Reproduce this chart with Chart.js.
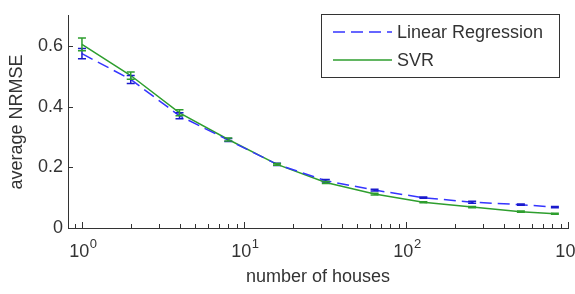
<!DOCTYPE html>
<html>
<head>
<meta charset="utf-8">
<script src="https://cdn.jsdelivr.net/npm/chart.js@4"></script>
<style>
  html, body { margin: 0; padding: 0; background: #fff; overflow: hidden; }
  #js-chart { display: block; }
</style>
</head>
<body>
<canvas id="js-chart" width="575" height="294"></canvas>
<script>
'use strict';
// number of houses (x) and the two series with their error bars
const houses = [1, 2, 4, 8, 16, 32, 64, 128, 256, 512, 830];
const lrValues = [0.575, 0.49, 0.37, 0.29, 0.21, 0.156, 0.125, 0.1, 0.085, 0.077, 0.069];
const lrErr = [0.017, 0.013, 0.01, 0.005, 0.004, 0.004, 0.003, 0.002, 0.003, 0.002, 0.002];
const svrValues = [0.606, 0.503, 0.38, 0.292, 0.21, 0.15, 0.112, 0.085, 0.069, 0.054, 0.047];
const svrErr = [0.021, 0.012, 0.01, 0.005, 0.003, 0.003, 0.003, 0.002, 0.002, 0.002, 0.002];
const xMajorTicks = [1, 10, 100, 1000];
const xExponents = ['0', '1', '2', '3'];
const xMinorTicks = [0.9, 2, 3, 4, 5, 6, 7, 8, 9, 20, 30, 40, 50, 60, 70, 80, 90, 200, 300, 400, 500, 600, 700, 800, 900];
const yTicks = [0, 0.2, 0.4, 0.6];
const seriesNames = ['Linear Regression', 'SVR'];

const blue = '#3535ff';
const blueBar = '#1a1acc';
const green = '#2e9e2e';
const axisColor = '#333';
const font = 'Arial, "Liberation Sans", sans-serif';

const errorBars = {
  id: 'errorBars',
  afterDatasetsDraw(chart) {
    const ctx = chart.ctx;
    const xs = chart.scales.x;
    const ys = chart.scales.y;
    chart.data.datasets.forEach(function(ds) {
      ctx.save();
      ctx.strokeStyle = ds.barColor;
      ctx.lineWidth = 1.5;
      ds.data.forEach(function(p, i) {
        const x = xs.getPixelForValue(p.x);
        const yt = ys.getPixelForValue(p.y + ds.err[i]);
        const yb = ys.getPixelForValue(p.y - ds.err[i]);
        ctx.beginPath();
        ctx.moveTo(x, yt); ctx.lineTo(x, yb);
        ctx.moveTo(x - 4, yt); ctx.lineTo(x + 4, yt);
        ctx.moveTo(x - 4, yb); ctx.lineTo(x + 4, yb);
        ctx.stroke();
      });
      ctx.restore();
    });
  }
};

// inward tick marks and the 10^n labels with a raised exponent
const axisTicks = {
  id: 'axisTicks',
  afterDraw(chart) {
    const ctx = chart.ctx;
    const area = chart.chartArea;
    const xs = chart.scales.x;
    const ys = chart.scales.y;
    ctx.save();
    ctx.strokeStyle = axisColor;
    ctx.lineWidth = 1;
    ctx.beginPath();
    for (let v of xMajorTicks) {
      const x = Math.round(xs.getPixelForValue(v)) + 0.5;
      ctx.moveTo(x, area.bottom); ctx.lineTo(x, area.bottom - 6);
    }
    for (let v of xMinorTicks) {
      const x = Math.round(xs.getPixelForValue(v)) + 0.5;
      ctx.moveTo(x, area.bottom); ctx.lineTo(x, area.bottom - 4);
    }
    for (let v of yTicks) {
      const y = Math.round(ys.getPixelForValue(v)) + 0.5;
      ctx.moveTo(area.left, y); ctx.lineTo(area.left + 5, y);
    }
    ctx.stroke();

    ctx.fillStyle = axisColor;
    ctx.textBaseline = 'alphabetic';
    ctx.textAlign = 'left';
    xMajorTicks.forEach(function(v, i) {
      const x = xs.getPixelForValue(v);
      ctx.font = '18px ' + font;
      const wBase = ctx.measureText('10').width;
      ctx.font = '13px ' + font;
      const wExp = ctx.measureText(xExponents[i]).width;
      const left = x - (wBase + wExp) / 2 + 1;
      ctx.font = '18px ' + font;
      ctx.fillText('10', left, area.bottom + 29);
      ctx.font = '13px ' + font;
      ctx.fillText(xExponents[i], left + wBase + 0.5, area.bottom + 20);
    });
    ctx.restore();
  }
};

const boxLegend = {
  id: 'boxLegend',
  afterDraw(chart) {
    const ctx = chart.ctx;
    ctx.save();
    ctx.fillStyle = '#fff';
    ctx.fillRect(321, 14, 238, 63);
    ctx.strokeStyle = axisColor;
    ctx.lineWidth = 1;
    ctx.strokeRect(321.5, 14.5, 238, 63);
    ctx.font = '18px ' + font;
    ctx.textBaseline = 'middle';
    chart.data.datasets.forEach(function(ds, i) {
      const y = 32 + i * 28;
      ctx.strokeStyle = ds.borderColor;
      ctx.lineWidth = 1.5;
      ctx.setLineDash(ds.borderDash || []);
      ctx.beginPath();
      ctx.moveTo(333, y); ctx.lineTo(392, y);
      ctx.stroke();
      ctx.setLineDash([]);
      ctx.fillStyle = axisColor;
      ctx.fillText(ds.label, 397, y + 1);
    });
    ctx.restore();
  }
};

document.addEventListener('DOMContentLoaded', function() {
  const ctx = document.getElementById('js-chart').getContext('2d');
  new Chart(ctx, {
    type: 'line',
    data: {
      datasets: [
        {
          label: seriesNames[0],
          data: houses.map((h, i) => ({ x: h, y: lrValues[i] })),
          err: lrErr,
          barColor: blueBar,
          borderColor: blue,
          borderWidth: 1.5,
          borderDash: [12, 6],
          pointRadius: 0,
          fill: false
        },
        {
          label: seriesNames[1],
          data: houses.map((h, i) => ({ x: h, y: svrValues[i] })),
          err: svrErr,
          barColor: green,
          borderColor: green,
          borderWidth: 1.5,
          pointRadius: 0,
          fill: false
        }
      ]
    },
    options: {
      responsive: false,
      animation: false,
      devicePixelRatio: 1,
      layout: { padding: { left: 0, right: 7, top: 3, bottom: 0 } },
      plugins: { legend: { display: false }, tooltip: { enabled: false } },
      scales: {
        x: {
          type: 'logarithmic',
          min: 0.82,
          max: 1000,
          afterBuildTicks: function(axis) {
            axis.ticks = xMajorTicks.map(v => ({ value: v }));
          },
          afterFit: function(axis) {
            axis.height = 66;
            axis.paddingLeft = 0;
            axis.paddingRight = 0;
          },
          grid: { display: false, drawTicks: false },
          border: { display: true, color: axisColor, width: 1 },
          ticks: { display: false },
          title: {
            display: true,
            text: 'number of houses',
            color: axisColor,
            font: { family: font, size: 18 },
            padding: { top: 6, bottom: 6 }
          }
        },
        y: {
          min: 0,
          max: 0.7,
          afterBuildTicks: function(axis) {
            axis.ticks = yTicks.map(v => ({ value: v }));
          },
          afterFit: function(axis) {
            axis.width = 68;
          },
          grid: { display: false, drawTicks: false },
          border: { display: true, color: axisColor, width: 1 },
          ticks: {
            padding: 5,
            color: axisColor,
            font: { family: font, size: 18 },
            callback: function(value) {
              return String(Math.round(value * 10) / 10);
            }
          },
          title: {
            display: true,
            text: 'average NRMSE',
            color: axisColor,
            font: { family: font, size: 18 },
            padding: { top: 6, bottom: 0 }
          }
        }
      }
    },
    plugins: [errorBars, axisTicks, boxLegend]
  });
});
</script>
</body>
</html>
